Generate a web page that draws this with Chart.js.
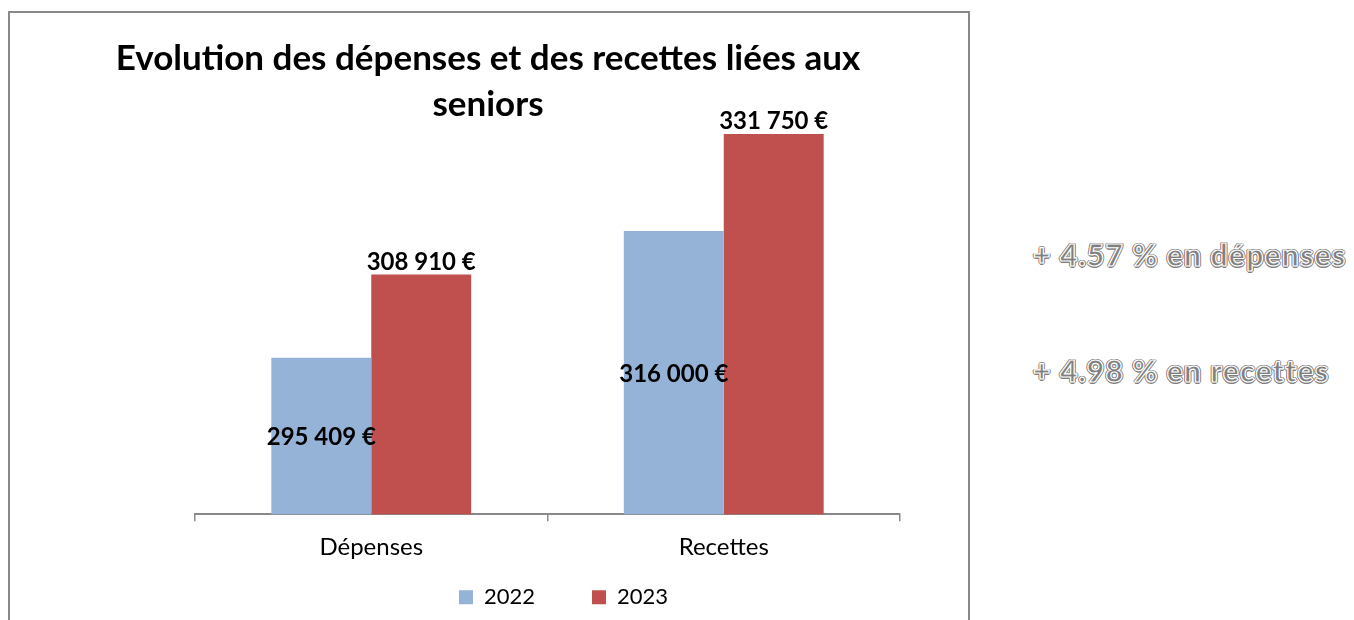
<!DOCTYPE html>
<html lang="fr">
<head>
<meta charset="utf-8">
<title>Evolution des dépenses et des recettes liées aux seniors</title>
<script src="https://cdn.jsdelivr.net/npm/chart.js@4.4.1/dist/chart.umd.min.js"></script>
<style>
  html, body { margin: 0; padding: 0; background: #fff; }
  body { width: 1354px; height: 620px; overflow: hidden; position: relative; }
  #cadre {
    position: absolute; left: 8px; top: 11px;
    width: 958px; height: 660px;
    border: 2px solid #898989;
  }
  #graphique { display: block; }
  .evolution {
    position: absolute; left: 1033px;
    font: 900 30px Lato, sans-serif; line-height: 30px;
    letter-spacing: 1.2px;
    color: #808080; white-space: nowrap;
    -webkit-text-stroke: 1.2px #fff;
    text-shadow: 1.5px 0 #808080, -1.5px 0 #808080, 0 1.5px #808080, 0 -1.5px #808080,
                 1px 1px #808080, -1px -1px #808080, 1px -1px #808080, -1px 1px #808080;
  }
</style>
</head>
<body>
<div id="cadre"><canvas id="graphique" width="958" height="650"></canvas></div>
<div class="evolution" id="evoDepenses" style="top:239px"></div>
<div class="evolution" id="evoRecettes" style="top:355px"></div>
<script>
// =======================================================================
// DONNÉES
// =======================================================================
const CATEGORIES = ["Dépenses", "Recettes"];
const ANNEES = ["2022", "2023"];
const VALEURS_2022 = [295409, 316000];
const VALEURS_2023 = [308910, 331750];
const AXE_Y_MIN = 270000;
const AXE_Y_MAX = 340000;
const TITRE = ["Evolution des dépenses et des recettes liées aux", "seniors"];
const EVOLUTIONS = ["+ 4.57 % en dépenses", "+ 4.98 % en recettes"];

const COULEURS = ["#95b3d7", "#c0504d"];
const GRIS_AXE = "#898989";

document.getElementById("evoDepenses").textContent = EVOLUTIONS[0];
document.getElementById("evoRecettes").textContent = EVOLUTIONS[1];

function formatEuro(v) {
  return String(v).replace(/\B(?=(\d{3})+(?!\d))/g, " ") + " €";
}

// =======================================================================
// PLUGIN ÉTIQUETTES (2022 au centre, 2023 au-dessus)
// =======================================================================
const etiquettes = {
  id: "etiquettes",
  afterDatasetsDraw(chart) {
    const ctx = chart.ctx;
    const bas = chart.chartArea.bottom;
    ctx.save();
    ctx.font = "bold 24px Lato";
    ctx.fillStyle = "#000";
    ctx.textAlign = "center";
    ctx.textBaseline = "alphabetic";
    chart.data.datasets.forEach((ds, i) => {
      chart.getDatasetMeta(i).data.forEach((barre, j) => {
        const y = i === 0 ? (barre.y + Math.min(barre.base, bas)) / 2 + 9 : barre.y - 5;
        ctx.fillText(formatEuro(ds.data[j]), barre.x, y);
      });
    });
    ctx.restore();
  },
};

// légende placée comme dans Excel : un peu à droite du centre, juste sous les libellés
const placementLegende = {
  id: "placementLegende",
  afterLayout(chart) {
    const lg = chart.legend;
    const dy = lg.top - (chart.chartArea.bottom + 15);
    lg.left += 16;
    lg.right += 16;
    lg.top -= dy;
    lg.bottom -= dy;
  },
};

// =======================================================================
// GRAPHIQUE
// =======================================================================
Chart.defaults.font.family = "Lato";
Chart.defaults.color = "#000";

new Chart(document.getElementById("graphique").getContext("2d"), {
  type: "bar",
  data: {
    labels: CATEGORIES,
    datasets: [
      { label: ANNEES[0], data: VALEURS_2022, backgroundColor: COULEURS[0], borderWidth: 0 },
      { label: ANNEES[1], data: VALEURS_2023, backgroundColor: COULEURS[1], borderWidth: 0 },
    ],
  },
  options: {
    responsive: false,
    animation: false,
    layout: { padding: { left: 0, right: 2, top: 0, bottom: 0 } },
    datasets: { bar: { categoryPercentage: 0.567, barPercentage: 1 } },
    plugins: {
      tooltip: { enabled: false },
      title: {
        display: true,
        text: TITRE,
        color: "#000",
        font: { size: 35, weight: "bold", lineHeight: 1.33 },
        padding: { top: 22, bottom: -45 },
      },
      legend: {
        position: "bottom",
        fullSize: false,
        labels: {
          boxWidth: 14,
          boxHeight: 14,
          padding: 57,
          color: "#000",
          font: { size: 22 },
        },
      },
    },
    scales: {
      x: {
        grid: {
          display: true,
          drawOnChartArea: false,
          drawTicks: true,
          tickLength: 7,
          offset: true,
          color: GRIS_AXE,
          lineWidth: 1.5,
        },
        border: { display: true, color: GRIS_AXE, width: 2 },
        ticks: { padding: 12, color: "#000", font: { size: 24 } },
      },
      y: {
        min: AXE_Y_MIN,
        max: AXE_Y_MAX,
        grid: { display: false },
        border: { display: false },
        ticks: { display: false },
        afterFit(axe) { axe.width = 185; },
      },
      droite: {
        type: "linear",
        position: "right",
        grid: { display: false },
        border: { display: false },
        ticks: { display: false },
        afterFit(axe) { axe.width = 66; },
      },
    },
  },
  plugins: [etiquettes, placementLegende],
});
</script>
</body>
</html>
